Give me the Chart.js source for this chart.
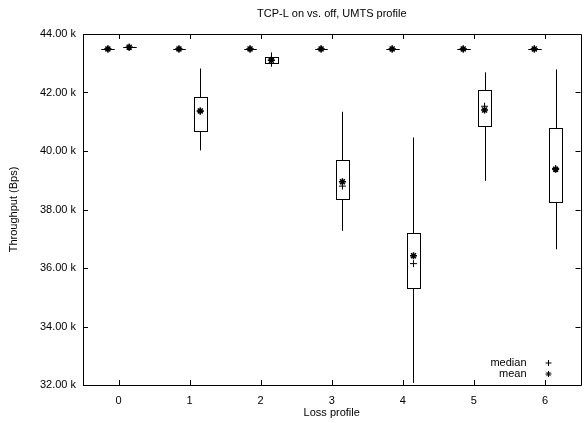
<!DOCTYPE html>
<html>
<head>
<meta charset="utf-8">
<script src="https://cdn.jsdelivr.net/npm/chart.js@4.4.0/dist/chart.umd.min.js"></script>
<style>
  html, body { margin: 0; padding: 0; background: #fff; }
  canvas { display: block; }
</style>
</head>
<body>
<canvas id="chart" width="586" height="423"></canvas>
<script>
const profiles = [0, 1, 2, 3, 4, 5, 6];
const yTicks = [32, 34, 36, 38, 40, 42, 44];

// TCP-L off (left box of each pair)
const offLow    = [43.47, 43.47, 43.47, 43.47, 43.47, 43.47, 43.47];
const offQ1     = [43.48, 43.48, 43.48, 43.48, 43.48, 43.48, 43.48];
const offMedian = [43.49, 43.49, 43.49, 43.49, 43.49, 43.49, 43.49];
const offMean   = [43.49, 43.49, 43.49, 43.49, 43.49, 43.49, 43.49];
const offQ3     = [43.50, 43.50, 43.50, 43.50, 43.50, 43.50, 43.50];
const offHigh   = [43.51, 43.51, 43.51, 43.51, 43.51, 43.51, 43.51];

// TCP-L on (right box of each pair)
const onLow    = [43.53, 40.02, 42.88, 37.27, 32.07, 38.98, 36.64];
const onQ1     = [43.54, 40.68, 43.00, 38.37, 35.30, 40.86, 38.27];
const onMedian = [43.55, 41.36, 43.10, 38.80, 36.15, 41.53, 39.40];
const onMean   = [43.55, 41.37, 43.10, 38.95, 36.42, 41.40, 39.38];
const onQ3     = [43.56, 41.85, 43.20, 39.70, 37.20, 42.10, 40.77];
const onHigh   = [43.57, 42.82, 43.37, 41.34, 40.46, 42.69, 42.79];

const legendLabels = ['median', 'mean'];

const boxShift = 0.15;
const boxHalf = 0.09;
const font = '"Liberation Sans", Arial, sans-serif';

const groups = [
  { shift: -boxShift, low: offLow, q1: offQ1, q3: offQ3, high: offHigh },
  { shift: boxShift, low: onLow, q1: onQ1, q3: onQ3, high: onHigh }
];

function points(values, shift) {
  return profiles.map((p, i) => ({ x: p + shift, y: values[i] }));
}

const snap = v => Math.round(v) + 0.5;

// boxes, whiskers, frame, mirrored ticks and key
const boxPlot = {
  id: 'boxPlot',
  beforeDatasetsDraw(chart) {
    const { ctx, scales: { x, y } } = chart;
    ctx.save();
    ctx.strokeStyle = '#000';
    ctx.fillStyle = '#fff';
    ctx.lineWidth = 1;
    groups.forEach(g => {
      profiles.forEach((p, i) => {
        const cx = snap(x.getPixelForValue(p + g.shift));
        const left = snap(x.getPixelForValue(p + g.shift - boxHalf));
        const right = snap(x.getPixelForValue(p + g.shift + boxHalf));
        const top = snap(y.getPixelForValue(g.q3[i]));
        const bot = snap(y.getPixelForValue(g.q1[i]));
        ctx.beginPath();
        ctx.moveTo(cx, y.getPixelForValue(g.high[i]));
        ctx.lineTo(cx, top);
        ctx.moveTo(cx, bot);
        ctx.lineTo(cx, y.getPixelForValue(g.low[i]));
        ctx.stroke();
        ctx.fillRect(left, top, right - left, bot - top);
        ctx.strokeRect(left, top, right - left, bot - top);
      });
    });
    ctx.restore();
  },
  afterDatasetsDraw(chart) {
    const { ctx, chartArea: a, scales: { x, y } } = chart;
    const t = 5;
    ctx.save();
    ctx.strokeStyle = '#000';
    ctx.lineWidth = 1;
    ctx.beginPath();
    ctx.rect(snap(a.left), snap(a.top), Math.round(a.right - a.left), Math.round(a.bottom - a.top));
    profiles.forEach(p => {
      const px = snap(x.getPixelForValue(p));
      ctx.moveTo(px, a.bottom); ctx.lineTo(px, a.bottom - t);
      ctx.moveTo(px, a.top); ctx.lineTo(px, a.top + t);
    });
    yTicks.forEach(v => {
      const py = snap(y.getPixelForValue(v));
      ctx.moveTo(a.left, py); ctx.lineTo(a.left + t, py);
      ctx.moveTo(a.right, py); ctx.lineTo(a.right - t, py);
    });
    ctx.stroke();

    // key
    ctx.fillStyle = '#000';
    ctx.font = '11px ' + font;
    ctx.textAlign = 'right';
    ctx.textBaseline = 'middle';
    const styles = ['cross', 'star'];
    legendLabels.forEach((label, i) => {
      const ly = a.bottom - 22 + i * 11;
      ctx.fillText(label, a.right - 54, ly);
      Chart.helpers.drawPoint(ctx, {
        pointStyle: styles[i], radius: 3, borderWidth: i ? 1.4 : 1, rotation: 0
      }, a.right - 32, ly);
    });
    ctx.restore();
  }
};

new Chart(document.getElementById('chart'), {
  type: 'scatter',
  data: {
    datasets: [
      {
        label: 'median',
        data: points(offMedian, -boxShift).concat(points(onMedian, boxShift)),
        pointStyle: 'cross', pointRadius: 3.5, borderColor: '#000', borderWidth: 1
      },
      {
        label: 'mean',
        data: points(offMean, -boxShift).concat(points(onMean, boxShift)),
        pointStyle: 'star', pointRadius: 3.5, borderColor: '#000', borderWidth: 1.5
      }
    ]
  },
  options: {
    responsive: false,
    animation: false,
    layout: { padding: { left: 0, right: 0, top: 0, bottom: 0 } },
    plugins: {
      legend: { display: false },
      tooltip: { enabled: false },
      title: {
        display: true,
        text: 'TCP-L on vs. off, UMTS profile',
        fullSize: false,
        color: '#000',
        font: { family: font, size: 11, weight: 'normal' },
        padding: { top: 7.5, bottom: 13.3 }
      }
    },
    scales: {
      x: {
        type: 'linear',
        min: -0.5,
        max: 6.5,
        afterBuildTicks: s => { s.ticks = profiles.map(v => ({ value: v })); },
        afterFit: s => { s.height = 38; },
        grid: { display: false, drawTicks: false },
        border: { display: false },
        ticks: { color: '#000', padding: 9, font: { family: font, size: 11 } },
        title: {
          display: true, text: 'Loss profile', color: '#000',
          font: { family: font, size: 11 }, padding: { top: 0, bottom: 3 }
        }
      },
      y: {
        min: 32,
        max: 44,
        afterBuildTicks: s => { s.ticks = yTicks.map(v => ({ value: v })); },
        afterFit: s => { s.width = 83; },
        grid: { display: false, drawTicks: false },
        border: { display: false },
        ticks: {
          color: '#000', padding: 7, font: { family: font, size: 11 },
          callback: v => v.toFixed(2) + ' k'
        },
        title: {
          display: true, text: 'Throughput (Bps)', color: '#000',
          font: { family: font, size: 11 }, padding: { top: 7, bottom: 0 }
        }
      }
    }
  },
  plugins: [boxPlot]
});
</script>
</body>
</html>
